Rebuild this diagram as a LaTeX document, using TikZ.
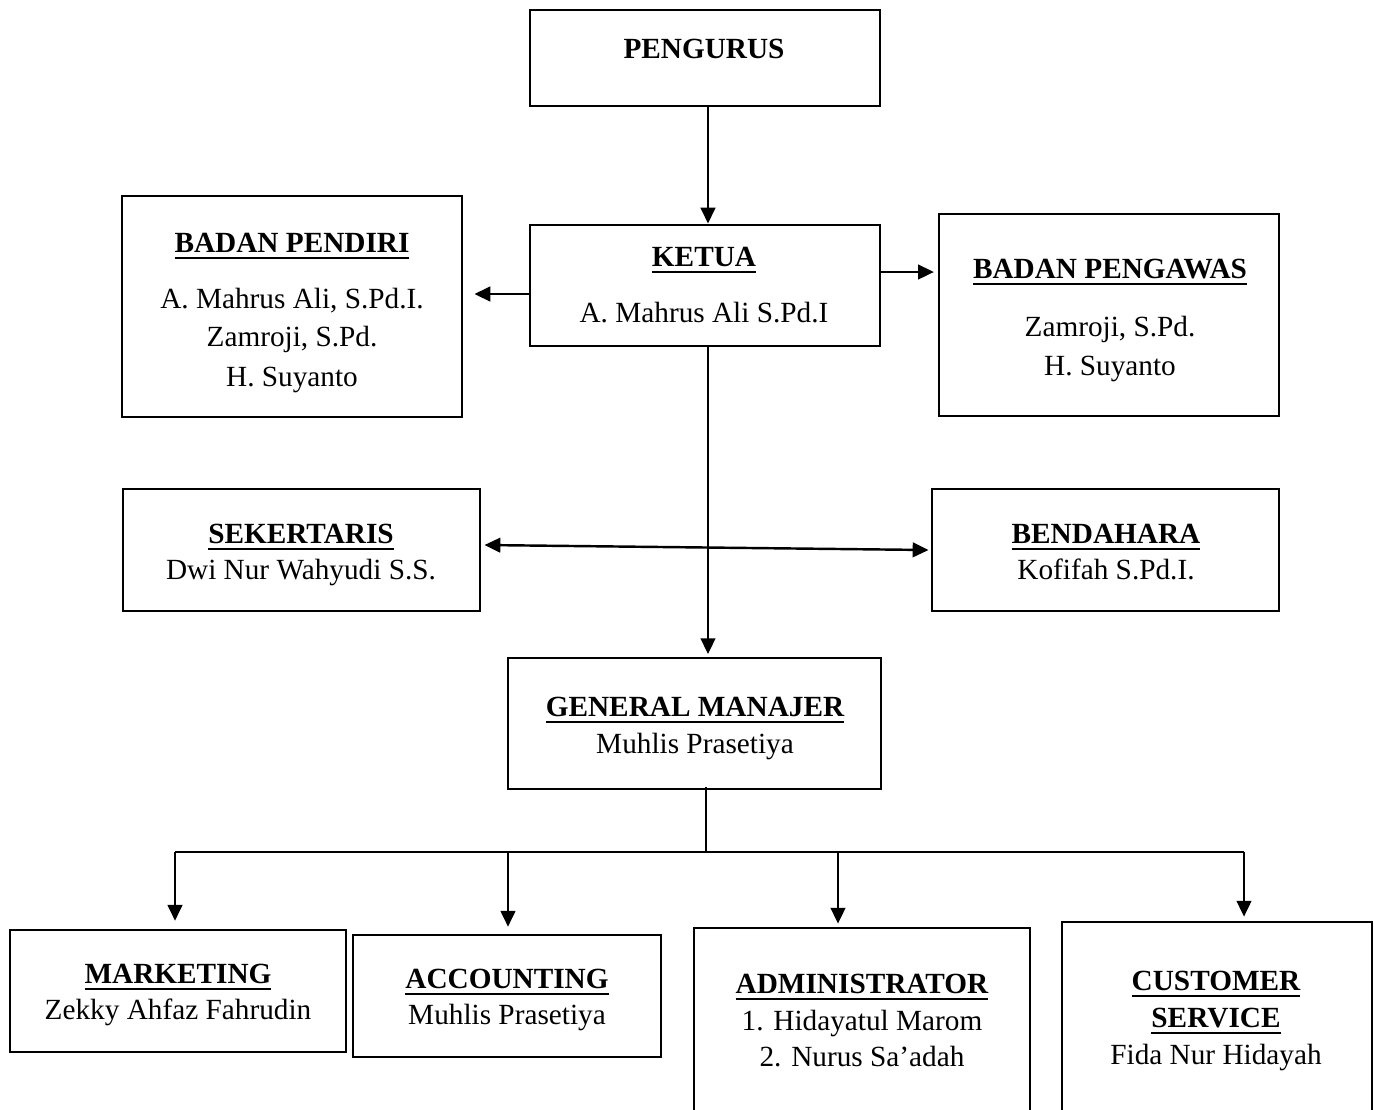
\documentclass[tikz,border=0pt]{standalone}
\usepackage{fontspec}
\setmainfont{Liberation Serif}
\usetikzlibrary{arrows.meta,fit,calc}
\newcommand\headul[1]{\setbox0=\hbox{\bfseries #1}\leavevmode\rlap{\vrule height -1.9pt depth 2.8pt width \wd0}\box0}
\begin{document}
\begin{tikzpicture}[x=0.41pt,y=-0.41pt,
  box/.style={draw,line width=1.2pt,inner sep=0pt,rectangle},
  txt/.style={anchor=base,inner sep=0pt,font=\fontsize{12}{14}\selectfont},
  arr/.style={line width=1pt,-{Triangle[length=6.5pt,width=6pt]}},
  darr/.style={line width=1pt,{Triangle[length=6.5pt,width=6pt]}-{Triangle[length=6.5pt,width=6pt]}},
  thin/.style={line width=0.6pt}]
\useasboundingbox (0,0) rectangle (1374,1109);
\clip (0,0) rectangle (1374,1109);
% boxes
\node[box,fit={(530,10) (880,106)}] (pengurus) {};
\node[box,fit={(530,225) (880,346)}] (ketua) {};
\node[box,fit={(122,196) (462,417)}] (pendiri) {};
\node[box,fit={(939,214) (1279,416)}] (pengawas) {};
\node[box,fit={(123,489) (480,611)}] (sek) {};
\node[box,fit={(932,489) (1279,611)}] (bend) {};
\node[box,fit={(508,658) (881,789)}] (gm) {};
\node[box,fit={(10,930) (346,1052)}] (mkt) {};
\node[box,fit={(353,935) (661,1057)}] (acc) {};
\node[box,fit={(694,928) (1030,1140)}] (adm) {};
\node[box,fit={(1062,922) (1372,1140)}] (cs) {};
% texts
\node[txt] (t1) at (704,58) {\bfseries PENGURUS};
\node[txt] (t2) at (704,266) {\headul{KETUA}};
\node[txt] (t3) at (704,322) {A. Mahrus Ali S.Pd.I};
\node[txt] (t4) at (292,252) {\headul{BADAN PENDIRI}};
\node[txt] (t5) at (292,308) {A. Mahrus Ali, S.Pd.I.};
\node[txt] (t6) at (292,346) {Zamroji, S.Pd.};
\node[txt] (t7) at (292,386) {H. Suyanto};
\node[txt] (t8) at (1110,278) {\headul{BADAN PENGAWAS}};
\node[txt] (t9) at (1110,336) {Zamroji, S.Pd.};
\node[txt] (t10) at (1110,375) {H. Suyanto};
\node[txt] (t11) at (301,543) {\headul{SEKERTARIS}};
\node[txt] (t12) at (301,579) {Dwi Nur Wahyudi S.S.};
\node[txt] (t13) at (1106,543) {\headul{BENDAHARA}};
\node[txt] (t14) at (1106,579) {Kofifah S.Pd.I.};
\node[txt] (t15) at (695,716) {\headul{GENERAL MANAJER}};
\node[txt] (t16) at (695,753) {Muhlis Prasetiya};
\node[txt] (t17) at (178,983) {\headul{MARKETING}};
\node[txt] (t18) at (178,1019) {Zekky Ahfaz Fahrudin};
\node[txt] (t19) at (507,988) {\headul{ACCOUNTING}};
\node[txt] (t20) at (507,1024) {Muhlis Prasetiya};
\node[txt] (t21) at (862,993) {\headul{ADMINISTRATOR}};
\node[txt] (t22) at (862,1030) {1. Hidayatul Marom};
\node[txt] (t23) at (862,1066) {2. Nurus Sa’adah};
\node[txt] (t24) at (1216,990) {\headul{CUSTOMER}};
\node[txt] (t25) at (1216,1027) {\headul{SERVICE}};
\node[txt] (t26) at (1216,1064) {Fida Nur Hidayah};
% coordinates
\coordinate (vx) at (708,0);
\coordinate (kp) at (0,294);
\coordinate (kw) at (0,272);
\coordinate (hub) at (706,852);
\coordinate (hl) at (175,852);
\coordinate (hr) at (1244,852);
\coordinate (d2) at (508,852);
\coordinate (d3) at (838,852);
% connectors
\draw[arr] (pengurus.south -| vx) -- (ketua.north -| vx);
\draw[arr,shorten >=4.5pt] (ketua.west |- kp) -- (pendiri.east |- kp);
\draw[arr,shorten >=1.5pt] (ketua.east |- kw) -- (pengawas.west |- kw);
\draw[arr,shorten >=1pt] (ketua.south -| vx) -- (gm.north -| vx);
\draw[darr] ($(sek.east)+(3,-5)$) -- ($(bend.west)+(-2,0)$);
\draw[thin] ([yshift=1.5pt]gm.south -| hub) -- (hub);
\draw[thin] (hl) -- (hr);
\draw[arr,shorten >=3.2pt] (hl) -- (mkt.north -| hl);
\draw[arr,shorten >=2.8pt] (d2) -- (acc.north -| d2);
\draw[arr,shorten >=1.2pt] (d3) -- (adm.north -| d3);
\draw[arr,shorten >=1.6pt] (hr) -- (cs.north -| hr);
\end{tikzpicture}
\end{document}
